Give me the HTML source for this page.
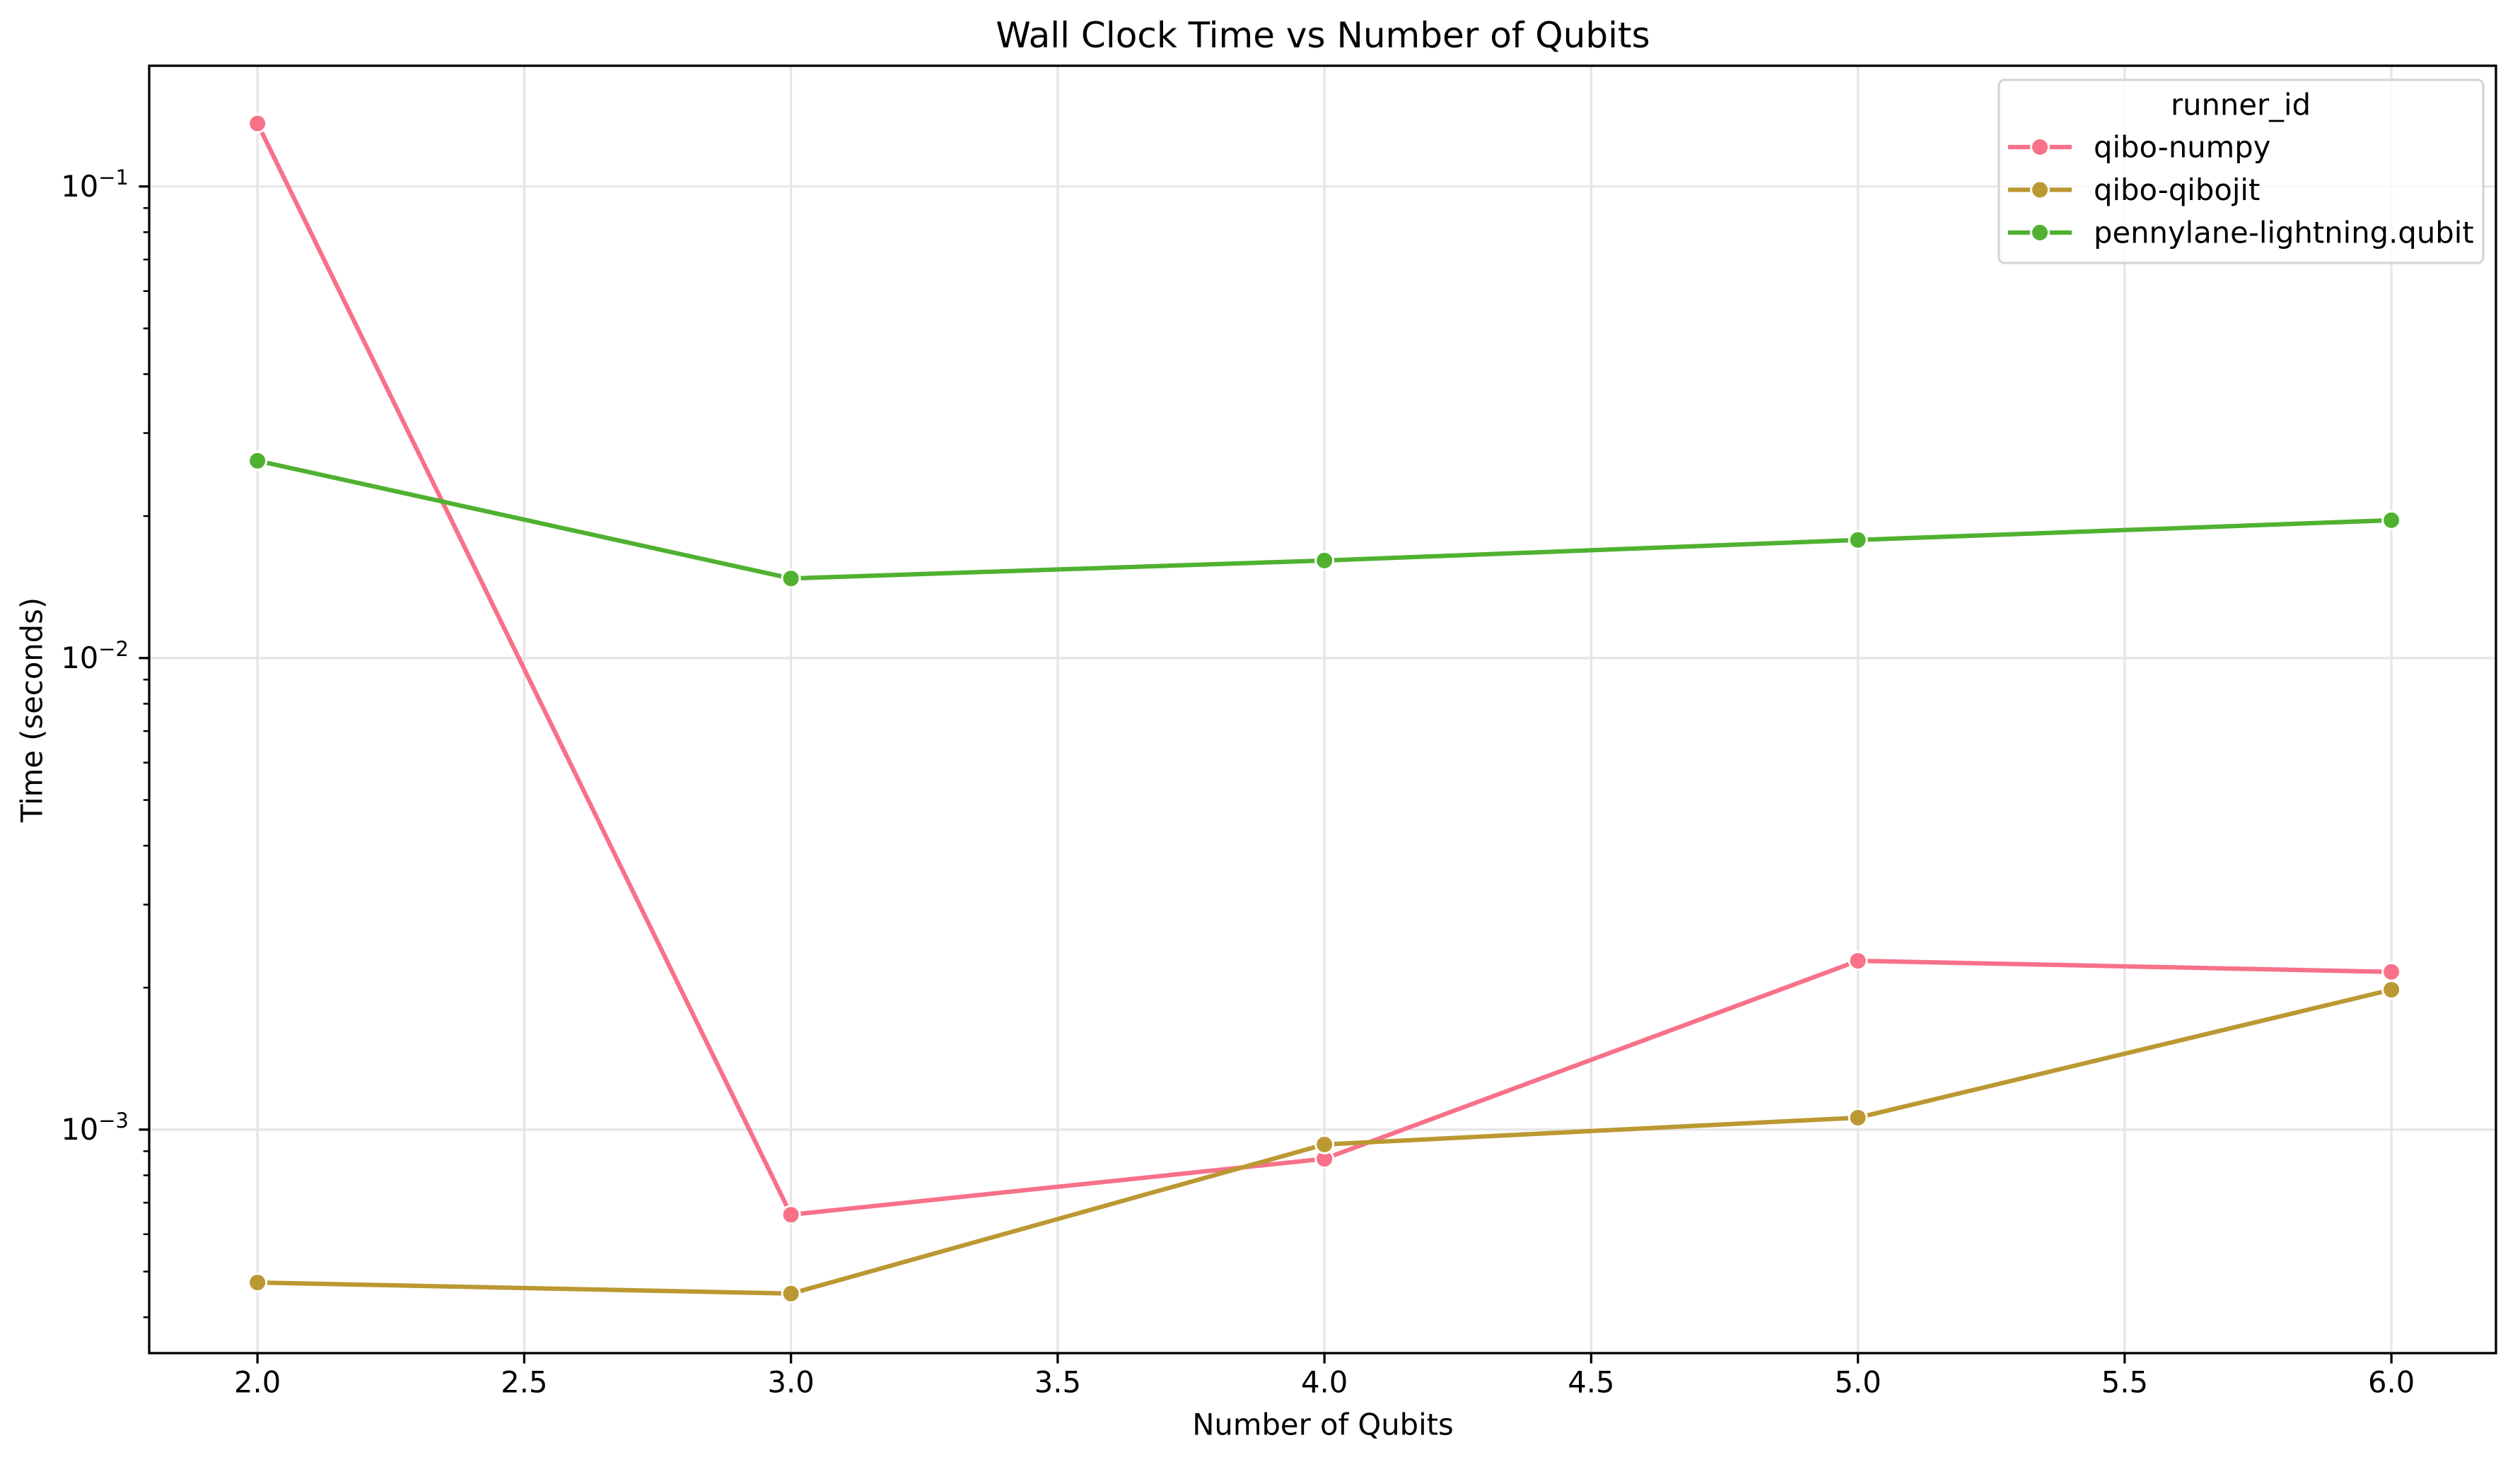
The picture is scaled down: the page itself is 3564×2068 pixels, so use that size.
<!DOCTYPE html>
<html><head><meta charset="utf-8"><style>
html,body{margin:0;padding:0;background:#fff;}
svg{display:block;font-family:"DejaVu Sans","Liberation Sans",sans-serif;}
</style></head><body>
<svg id="chart" width="3564" height="2068" viewBox="0 0 3564 2068" xmlns="http://www.w3.org/2000/svg">
<rect width="3564" height="2068" fill="#fff"/>
<text x="1871" y="50" font-size="50" text-anchor="middle" dominant-baseline="central">Wall Clock Time vs Number of Qubits</text>
<text x="1871" y="2015" font-size="41.7" text-anchor="middle" dominant-baseline="central">Number of Qubits</text>
<text transform="translate(45,1004) rotate(-90)" font-size="41.7" text-anchor="middle" dominant-baseline="central">Time (seconds)</text>
<g id="grid"></g><g id="series"></g><g id="axes"></g><g id="legend"></g>
</svg>
<script>
const xValues = [2, 3, 4, 5, 6];
const seriesNames = ["qibo-numpy", "qibo-qibojit", "pennylane-lightning.qubit"];
const numpyValues = [0.136, 0.00066, 0.000867, 0.00228, 0.00216];
const qibojitValues = [0.000474, 0.000449, 0.00093, 0.00106, 0.00198];
const pennylaneValues = [0.0262, 0.01475, 0.0161, 0.0178, 0.0196];
const xTicks = [2.0, 2.5, 3.0, 3.5, 4.0, 4.5, 5.0, 5.5, 6.0];
const yDecades = [-3, -2, -1];

const colors = ["#f77189", "#bb9832", "#50b131"];
const L = 211, R = 3530, T = 93, B = 1914;
const xMin = 1.797, xMax = 6.196, yMinLog = -3.474, yMaxLog = -0.744;
const sx = v => L + (v - xMin) / (xMax - xMin) * (R - L);
const sy = v => B - (Math.log10(v) - yMinLog) / (yMaxLog - yMinLog) * (B - T);
const NS = "http://www.w3.org/2000/svg";
function mk(tag, attrs, parent) {
  const e = document.createElementNS(NS, tag);
  for (const k in attrs) e.setAttribute(k, attrs[k]);
  parent.appendChild(e);
  return e;
}
const grid = document.getElementById('grid');
const axes = document.getElementById('axes');
const series = document.getElementById('series');
const legend = document.getElementById('legend');

xTicks.forEach(t => {
  const x = sx(t);
  const g = mk('line', {x1: x, x2: x, y1: T, y2: B, stroke: '#e6e6e6', 'stroke-width': 3.3}, grid);
  
  
  const tk = mk('line', {x1: x, x2: x, y1: B, y2: B + 14.6, stroke: '#000', 'stroke-width': 3.3}, axes);
  
  
  const tx = mk('text', {x: x, y: 1955, 'font-size': 41.7, 'text-anchor': 'middle', 'dominant-baseline': 'central'}, axes);
  tx.textContent = t.toFixed(1);
  
  
});
yDecades.forEach(d => {
  const y = sy(Math.pow(10, d));
  const g = mk('line', {x1: L, x2: R, y1: y, y2: y, stroke: '#e6e6e6', 'stroke-width': 3.3}, grid);
  
  
  const tk = mk('line', {x1: L - 14.6, x2: L, y1: y, y2: y, stroke: '#000', 'stroke-width': 3.3}, axes);
  
  
  const tx = mk('text', {x: 182, y: y + 14, 'font-size': 41.7, 'text-anchor': 'end'}, axes);
  
  
  const a = mk('tspan', {}, tx); a.textContent = '10';
  const b = mk('tspan', {dy: -17, 'font-size': 29}, tx); b.textContent = '\u2212' + Math.abs(d);
});
for (let d = -4; d <= -1; d++) {
  for (let m = 2; m <= 9; m++) {
    const v = m * Math.pow(10, d);
    const lv = Math.log10(v);
    if (lv < yMinLog || lv > yMaxLog) continue;
    const y = sy(v);
    const tk = mk('line', {x1: L - 8.3, x2: L, y1: y, y2: y, stroke: '#000', 'stroke-width': 2.5}, axes);
    
    
  }
}
const sp = mk('rect', {x: L, y: T, width: R - L, height: B - T, fill: 'none', stroke: '#000', 'stroke-width': 3.3}, axes);



const allValues = [numpyValues, qibojitValues, pennylaneValues];
allValues.forEach((vals, i) => {
  const pts = vals.map((v, j) => sx(xValues[j]) + ',' + sy(v)).join(' ');
  const pl = mk('polyline', {points: pts, fill: 'none', stroke: colors[i], 'stroke-width': 6.25, 'stroke-linejoin': 'round', 'stroke-linecap': 'round'}, series);
  
  
  vals.forEach((v, j) => {
    const c = mk('circle', {cx: sx(xValues[j]), cy: sy(v), r: 12.5, fill: colors[i], stroke: '#fff', 'stroke-width': 3}, series);
    
    
  });
});

const lb = mk('rect', {x: 2827, y: 113, width: 685, height: 259, rx: 8, fill: '#fff', 'fill-opacity': 0.8, stroke: '#d5d5d5', 'stroke-width': 3.3}, legend);


const lt = mk('text', {x: 3169, y: 148, 'font-size': 41.7, 'text-anchor': 'middle', 'dominant-baseline': 'central'}, legend);
lt.textContent = 'runner_id';


seriesNames.forEach((n, i) => {
  const y = 208 + i * 60.5;
  const g = mk('g', {}, legend);
  
  
  mk('line', {x1: 2840, x2: 2930, y1: y, y2: y, stroke: colors[i], 'stroke-width': 6.25}, g);
  mk('circle', {cx: 2885, cy: y, r: 12.5, fill: colors[i], stroke: '#fff', 'stroke-width': 3}, g);
  const t = mk('text', {x: 2961, y: y, 'font-size': 41.7, 'dominant-baseline': 'central'}, g);
  t.textContent = n;
});
</script>
</body></html>
